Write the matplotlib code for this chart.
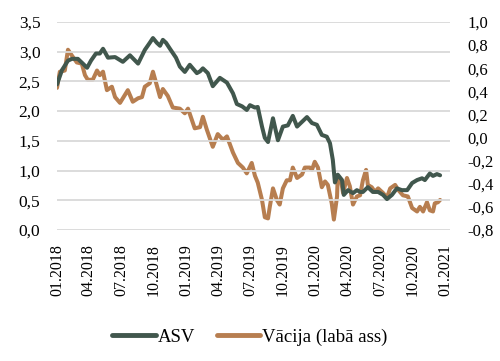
import matplotlib
matplotlib.use("Agg")
import matplotlib.pyplot as plt
from matplotlib.ticker import FuncFormatter, MultipleLocator
import pandas as pd

asv_dates = ["2018-01-01","2018-01-15","2018-02-01","2018-02-12","2018-03-01","2018-03-15","2018-03-27",
    "2018-04-07","2018-04-21","2018-05-02","2018-05-11","2018-05-25","2018-06-14","2018-07-06","2018-07-26",
    "2018-08-18","2018-09-06","2018-09-20","2018-09-29","2018-10-10","2018-10-19","2018-10-27","2018-11-05",
    "2018-11-16","2018-12-03","2018-12-14","2018-12-28","2019-01-11","2019-01-31","2019-02-09","2019-02-17",
    "2019-03-03","2019-03-17","2019-04-06","2019-04-26","2019-05-13","2019-05-24","2019-06-08","2019-06-21",
    "2019-06-30","2019-07-14","2019-07-22","2019-08-03","2019-08-11","2019-08-20","2019-09-03","2019-09-17",
    "2019-10-01","2019-10-15","2019-10-29","2019-11-10","2019-11-24","2019-12-08","2019-12-22","2020-01-05",
    "2020-01-19","2020-02-02","2020-02-11","2020-02-19","2020-02-25","2020-03-04","2020-03-16","2020-03-21",
    "2020-04-02","2020-04-16","2020-04-27","2020-05-06","2020-05-14","2020-05-28","2020-06-11","2020-06-26",
    "2020-07-10","2020-07-21","2020-08-04","2020-08-18","2020-09-01","2020-09-16","2020-09-30","2020-10-14",
    "2020-10-28","2020-11-05","2020-11-19","2020-11-28","2020-12-09","2020-12-18"]
asv_values = [2.45,2.69,2.85,2.88,2.88,2.80,2.73,
    2.85,2.97,2.97,3.05,2.90,2.91,2.83,2.94,
    2.80,3.03,3.15,3.23,3.15,3.10,3.20,3.15,
    3.05,2.90,2.75,2.66,2.78,2.64,2.67,2.72,
    2.64,2.42,2.56,2.48,2.30,2.12,2.08,2.02,
    2.10,2.06,2.07,1.74,1.55,1.48,1.88,1.51,
    1.74,1.76,1.92,1.74,1.82,1.90,1.80,1.77,
    1.60,1.57,1.46,1.18,0.80,0.93,0.84,0.59,
    0.67,0.62,0.67,0.64,0.64,0.72,0.64,0.64,
    0.59,0.52,0.59,0.70,0.67,0.67,0.79,0.84,
    0.87,0.84,0.95,0.91,0.94,0.92]

de_dates = ["2018-01-01","2018-01-09","2018-01-23","2018-02-01","2018-02-12","2018-02-26","2018-03-12",
    "2018-03-21","2018-03-29","2018-04-12","2018-04-24","2018-05-02","2018-05-11","2018-05-22","2018-06-05",
    "2018-06-14","2018-06-28","2018-07-12","2018-07-20","2018-08-03","2018-08-18","2018-08-29","2018-09-06",
    "2018-09-20","2018-09-29","2018-10-10","2018-10-19","2018-10-27","2018-11-10","2018-11-24","2018-12-14",
    "2018-12-28","2019-01-06","2019-01-25","2019-02-09","2019-02-17","2019-02-28","2019-03-17","2019-03-31",
    "2019-04-15","2019-04-26","2019-05-13","2019-05-27","2019-06-10","2019-06-21","2019-07-05","2019-07-14",
    "2019-07-22","2019-08-03","2019-08-11","2019-08-20","2019-08-25","2019-09-03","2019-09-14","2019-09-22",
    "2019-10-01","2019-10-12","2019-10-21","2019-10-29","2019-11-10","2019-11-24","2019-12-02","2019-12-16",
    "2019-12-22","2019-12-30","2020-01-08","2020-01-19","2020-01-28","2020-02-05","2020-02-16","2020-02-22",
    "2020-03-02","2020-03-04","2020-03-13","2020-03-19","2020-03-30","2020-04-07","2020-04-16","2020-04-27",
    "2020-05-06","2020-05-14","2020-05-23","2020-05-28","2020-06-08","2020-06-17","2020-06-26","2020-07-10",
    "2020-07-21","2020-07-30","2020-08-13","2020-08-21","2020-09-04","2020-09-18","2020-09-30","2020-10-14",
    "2020-10-22","2020-10-31","2020-11-11","2020-11-19","2020-11-28","2020-12-03","2020-12-12","2020-12-18"]
de_values = [0.43,0.57,0.58,0.76,0.71,0.65,0.64,
    0.54,0.50,0.50,0.58,0.54,0.57,0.41,0.44,
    0.35,0.30,0.37,0.41,0.31,0.34,0.35,0.44,
    0.47,0.57,0.45,0.35,0.42,0.36,0.26,0.25,
    0.21,0.25,0.08,0.09,0.18,0.07,-0.08,0.03,
    -0.02,0.01,-0.13,-0.22,-0.26,-0.31,-0.22,-0.33,
    -0.39,-0.54,-0.69,-0.70,-0.60,-0.44,-0.54,-0.58,
    -0.44,-0.37,-0.37,-0.26,-0.35,-0.32,-0.26,-0.26,
    -0.28,-0.21,-0.26,-0.43,-0.38,-0.41,-0.57,-0.71,
    -0.51,-0.33,-0.37,-0.48,-0.35,-0.42,-0.58,-0.51,
    -0.50,-0.37,-0.28,-0.41,-0.43,-0.47,-0.44,-0.48,
    -0.52,-0.44,-0.41,-0.45,-0.50,-0.51,-0.61,-0.64,
    -0.60,-0.64,-0.56,-0.63,-0.64,-0.57,-0.56,-0.54]

xtick_dates = ["2018-01-01","2018-04-01","2018-07-01","2018-10-01","2019-01-01","2019-04-01","2019-07-01",
    "2019-10-01","2020-01-01","2020-04-01","2020-07-01","2020-10-01","2021-01-01"]

series_names = ["ASV", "Vācija (labā ass)"]
colors = ["#41574D", "#B77E50"]

plt.rcParams['font.family'] = ['Liberation Serif', 'DejaVu Serif']
plt.rcParams['axes.unicode_minus'] = False

fig = plt.figure(figsize=(5.0, 3.61), dpi=100)
ax = fig.add_axes([0.114, 0.363, 0.786, 0.576])
ax2 = ax.twinx()

d1 = pd.to_datetime(asv_dates)
d2 = pd.to_datetime(de_dates)
l1, = ax.plot(d1, asv_values, color=colors[0], lw=2.9, solid_joinstyle='round', solid_capstyle='round', zorder=3)
l2, = ax2.plot(d2, de_values, color=colors[1], lw=2.9, solid_joinstyle='round', solid_capstyle='round', zorder=3)

ax.set_zorder(ax2.get_zorder() + 1)
ax.patch.set_visible(False)

ax.set_ylim(0, 3.5)
ax2.set_ylim(-0.8, 1.0)
ax.yaxis.set_major_locator(MultipleLocator(0.5))
ax2.yaxis.set_major_locator(MultipleLocator(0.2))
comma1 = FuncFormatter(lambda v, p: f"{v:.1f}".replace(".", ",").replace("-0,0", "0,0"))
ax.yaxis.set_major_formatter(comma1)
ax2.yaxis.set_major_formatter(comma1)

xt = pd.to_datetime(xtick_dates)
ax.set_xlim(pd.Timestamp("2018-01-01"), pd.Timestamp("2021-01-15"))
ax.set_xticks(xt)
ax.set_xticklabels([d.strftime("%m.%Y") for d in xt], rotation=90, fontsize=11.5)

ax.grid(axis='y', color='#D9D9D9', lw=1.3)
ax.set_axisbelow(True)
for a in (ax, ax2):
    for s in a.spines.values():
        s.set_visible(False)
    a.tick_params(length=0)
ax.tick_params(axis='y', labelsize=12.5, pad=12)
ax2.tick_params(axis='y', labelsize=12, pad=12.5)
ax.tick_params(axis='x', pad=10)

leg = fig.legend([l1, l2], series_names, loc='center', bbox_to_anchor=(0.5, 0.066), ncol=2,
                 frameon=False, fontsize=13.5, handlelength=2.3, handletextpad=0.1, columnspacing=1.2)
for h in leg.get_lines():
    h.set_linewidth(3.5)

fig.savefig("out.png", dpi=100)
